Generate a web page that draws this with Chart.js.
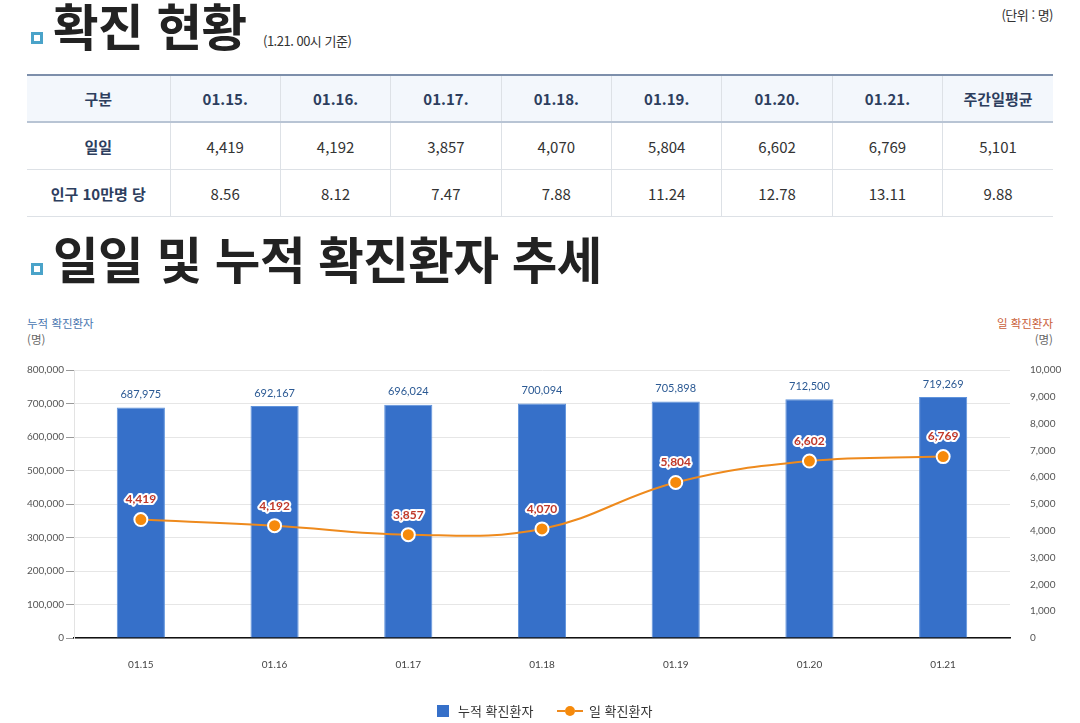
<!DOCTYPE html>
<html lang="ko">
<head>
<meta charset="utf-8">
<script src="https://cdn.jsdelivr.net/npm/chart.js@4.4.0/dist/chart.umd.min.js"></script>
<style>
  html, body { margin: 0; padding: 0; background: #fff; }
  body { width: 1080px; height: 723px; position: relative; overflow: hidden; font-family: "Noto Sans CJK KR", "Noto Sans", sans-serif; color: #333; }
  .icon { position: absolute; width: 6px; height: 6px; border: 3px solid #4aa3c9; background: #fff; }
  .title { position: absolute; left: 53px; font-size: 49.5px; font-weight: 700; color: #222; line-height: 1; letter-spacing: -0.5px; }
  .small { position: absolute; font-size: 13px; color: #333; letter-spacing: -0.5px; }
  table { position: absolute; left: 27px; top: 74px; width: 1026px; border-collapse: collapse; table-layout: fixed; }
  th, td { height: 46px; text-align: center; font-size: 15px; border: 1px solid #dde1e6; padding: 0; }
  thead th { background: #f3f7fc; color: #2d3e5e; font-weight: 700; border-top: 2px solid #7d8fab; border-bottom: 2px solid #b8c4d4; height: 45px; }
  tbody th { color: #2d3e5e; font-weight: 700; }
  tbody td { color: #333; font-weight: 400; }
  table tr > *:first-child { border-left: none; }
  table tr > *:last-child { border-right: none; }
  #wrap { position: absolute; left: 0; top: 300px; width: 1080px; height: 423px; }
  .axt { position: absolute; font-size: 11.5px; line-height: 16px; }
  .legend { position: absolute; top: 701px; font-size: 13px; color: #333; display: flex; align-items: center; }
</style>
</head>
<body>
<div class="icon" style="left:31px; top:32px;"></div>
<div class="title" style="top:0px;">확진 현황</div>
<div class="small" style="left:263px; top:31px;">(1.21. 00시 기준)</div>
<div class="small" style="right:27px; top:5px;">(단위 : 명)</div>

<table id="tbl"></table>

<div class="icon" style="left:31px; top:263px;"></div>
<div class="title" style="top:233px;">일일 및 누적 확진환자 추세</div>

<div class="axt" style="left:27px; top:315px; color:#4a77b0;">누적 확진환자<br><span style="color:#666">(명)</span></div>
<div class="axt" style="right:27px; top:315px; color:#c9603a; text-align:right;">일 확진환자<br><span style="color:#666">(명)</span></div>

<div id="wrap"><canvas id="chart"></canvas></div>

<div class="legend" style="left:437px;"><span style="display:inline-block;width:12px;height:12px;background:#3670c9;margin-right:9px;"></span>누적 확진환자</div>
<div class="legend" style="left:557px;">
  <span style="position:relative;display:inline-block;width:26px;height:12px;margin-right:6px;">
    <span style="position:absolute;left:0;top:5px;width:8px;height:2px;background:#ee8a1d;"></span>
    <span style="position:absolute;left:18px;top:5px;width:8px;height:2px;background:#ee8a1d;"></span>
    <span style="position:absolute;left:8px;top:1px;width:10px;height:10px;border-radius:50%;background:#f68a0b;"></span>
  </span>일 확진환자</div>

<script>
// table data
var tableHeads = ['01.15.', '01.16.', '01.17.', '01.18.', '01.19.', '01.20.', '01.21.', '주간일평균'];
var dailyText = ['4,419', '4,192', '3,857', '4,070', '5,804', '6,602', '6,769', '5,101'];
var per100k = ['8.56', '8.12', '7.47', '7.88', '11.24', '12.78', '13.11', '9.88'];

// chart data
var labels = ['01.15', '01.16', '01.17', '01.18', '01.19', '01.20', '01.21'];
var cumulative = [687975, 692167, 696024, 700094, 705898, 712500, 719269];
var daily = [4419, 4192, 3857, 4070, 5804, 6602, 6769];

var html = '<colgroup><col style="width:143px">';
for (var i = 0; i < tableHeads.length; i++) html += '<col>';
html += '</colgroup><thead><tr><th>구분</th>';
tableHeads.forEach(function(h){ html += '<th>' + h + '</th>'; });
html += '</tr></thead><tbody><tr><th>일일</th>';
dailyText.forEach(function(v){ html += '<td>' + v + '</td>'; });
html += '</tr><tr><th>인구 10만명 당</th>';
per100k.forEach(function(v){ html += '<td>' + v + '</td>'; });
html += '</tr></tbody>';
document.getElementById('tbl').innerHTML = html;

function fmt(v){ return Number(v).toLocaleString('en-US'); }

var valueLabels = {
  id: 'valueLabels',
  afterDatasetsDraw: function(chart){
    var ctx = chart.ctx;
    ctx.save();
    ctx.textAlign = 'center';
    ctx.textBaseline = 'middle';
    // bar labels
    var barMeta = chart.getDatasetMeta(1);
    ctx.font = '11px Lato';
    ctx.fillStyle = '#2c5a94';
    barMeta.data.forEach(function(el, i){
      ctx.fillText(fmt(cumulative[i]), el.x, el.y - 13);
    });
    // line labels
    var lineMeta = chart.getDatasetMeta(0);
    ctx.font = 'bold 12px Lato';
    ctx.lineJoin = 'round';
    lineMeta.data.forEach(function(el, i){
      ctx.strokeStyle = '#fff';
      ctx.lineWidth = 4;
      ctx.strokeText(fmt(daily[i]), el.x, el.y - 20);
      ctx.fillStyle = '#c0392b';
      ctx.fillText(fmt(daily[i]), el.x, el.y - 20);
    });
    ctx.restore();
  }
};

Chart.defaults.font.family = 'Lato';

new Chart(document.getElementById('chart'), {
  type: 'bar',
  data: {
    labels: labels,
    datasets: [
      {
        type: 'line',
        label: '일 확진환자',
        data: daily,
        yAxisID: 'y2',
        borderColor: '#ee8a1d',
        borderWidth: 2,
        pointRadius: 6.5,
        pointHoverRadius: 6.5,
        pointBackgroundColor: '#f68a0b',
        pointBorderColor: '#fff',
        pointBorderWidth: 2,
        tension: 0.4,
        order: 0
      },
      {
        type: 'bar',
        label: '누적 확진환자',
        data: cumulative,
        yAxisID: 'y',
        backgroundColor: '#3670c9',
        borderColor: '#5f93dc',
        borderWidth: 1,
        barPercentage: 0.36,
        categoryPercentage: 1,
        order: 1
      }
    ]
  },
  options: {
    responsive: true,
    maintainAspectRatio: false,
    animation: false,
    layout: { padding: { top: 70, bottom: 55, left: 0, right: 0 } },
    plugins: { legend: { display: false }, tooltip: { enabled: false } },
    scales: {
      x: {
        grid: { display: false },
        border: { display: true, color: '#111', width: 1.5 },
        ticks: { color: '#444', font: { size: 10 }, padding: 13 },
        afterFit: function(s){ s.height = 30; }
      },
      y: {
        position: 'left',
        min: 0,
        max: 800000,
        ticks: { stepSize: 100000, color: '#555', font: { size: 10 }, padding: 2, callback: function(v){ return fmt(v); } },
        grid: { color: '#e6e6e6', tickLength: 8, tickColor: '#999' },
        border: { color: '#e3e3e3' },
        afterFit: function(s){ s.width = 74; }
      },
      y2: {
        position: 'right',
        min: 0,
        max: 10000,
        ticks: { stepSize: 1000, color: '#555', font: { size: 10 }, padding: 12, callback: function(v){ return fmt(v); } },
        grid: { display: false },
        border: { display: false },
        afterFit: function(s){ s.width = 70; }
      }
    }
  },
  plugins: [valueLabels]
});
</script>
</body>
</html>
